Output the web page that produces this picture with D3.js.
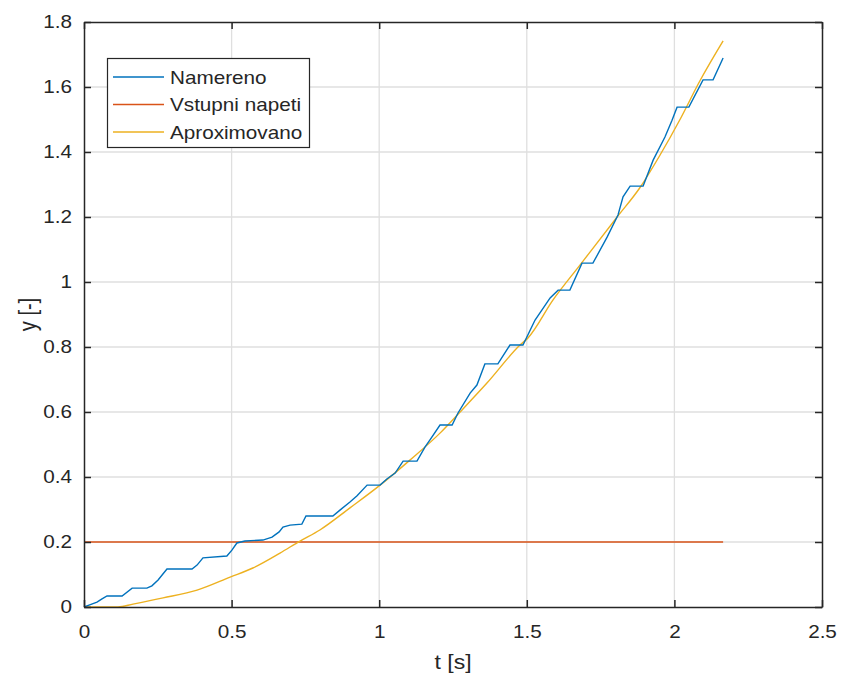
<!DOCTYPE html>
<html>
<head>
<meta charset="utf-8">
<script src="https://d3js.org/d3.v7.min.js"></script>
<style>
  body { margin: 0; background: #fff; }
  text { font-family: "Liberation Sans", Arial, sans-serif; fill: #262626; }
</style>
</head>
<body>
<script>
// measured signal (staircase from quantised samples)
var measT = [0, 0.017, 0.044, 0.061, 0.078, 0.129, 0.163, 0.213, 0.230, 0.251, 0.281, 0.366,
  0.383, 0.403, 0.484, 0.501, 0.518, 0.545, 0.606, 0.637, 0.661, 0.674, 0.698, 0.738, 0.752,
  0.843, 0.867, 0.901, 0.925, 0.959, 1.003, 1.026, 1.054, 1.081, 1.128, 1.155, 1.172, 1.206,
  1.247, 1.267, 1.308, 1.331, 1.358, 1.402, 1.443, 1.487, 1.528, 1.579, 1.606, 1.646, 1.687,
  1.724, 1.772, 1.809, 1.826, 1.850, 1.894, 1.928, 1.968, 1.992, 2.009, 2.049, 2.097, 2.131, 2.165];
var measY = [0, 0.006, 0.015, 0.025, 0.034, 0.034, 0.058, 0.058, 0.065, 0.083, 0.117, 0.117,
  0.129, 0.151, 0.157, 0.175, 0.197, 0.203, 0.206, 0.215, 0.231, 0.246, 0.252, 0.255, 0.280,
  0.280, 0.298, 0.323, 0.342, 0.375, 0.375, 0.394, 0.412, 0.449, 0.449, 0.492, 0.514, 0.560,
  0.560, 0.597, 0.658, 0.683, 0.748, 0.748, 0.806, 0.806, 0.883, 0.951, 0.975, 0.975, 1.058,
  1.058, 1.138, 1.206, 1.262, 1.295, 1.295, 1.375, 1.446, 1.498, 1.538, 1.538, 1.622, 1.622, 1.689];

// input voltage
var inputT = [0, 2.165];
var inputY = [0.2, 0.2];

// approximation
var aproxT = [0, 0.115, 0.166, 0.268, 0.383, 0.495, 0.572, 0.664, 0.732, 0.799, 0.901, 1.003,
  1.104, 1.206, 1.274, 1.365, 1.477, 1.504, 1.589, 1.680, 1.806, 1.883, 1.951, 2.019, 2.087, 2.165];
var aproxY = [0, 0, 0.009, 0.028, 0.052, 0.092, 0.120, 0.166, 0.203, 0.237, 0.305, 0.375,
  0.452, 0.535, 0.600, 0.689, 0.806, 0.828, 0.945, 1.052, 1.200, 1.290, 1.390, 1.500, 1.620, 1.742];

var xTicks = [0, 0.5, 1, 1.5, 2, 2.5];
var yTicks = [0, 0.2, 0.4, 0.6, 0.8, 1, 1.2, 1.4, 1.6, 1.8];
var legendNames = ["Namereno", "Vstupni napeti", "Aproximovano"];
var colors = ["#0072BD", "#D95319", "#EDB120"];

var W = 842, H = 683;
var pLeft = 84, pRight = 822, pTop = 22, pBottom = 607;
var stretch = "scale(1.15,1)"; // reference glyphs are a bit wide

var svg = d3.select("body").append("svg").attr("width", W).attr("height", H);

var x = d3.scaleLinear().domain([0, 2.5]).range([pLeft, pRight]);
var y = d3.scaleLinear().domain([0, 1.8]).range([pBottom, pTop]);

// grid
svg.append("g").selectAll("line").data(xTicks.slice(1, -1)).enter().append("line")
  .attr("x1", d => x(d)).attr("x2", d => x(d)).attr("y1", pTop).attr("y2", pBottom)
  .attr("stroke", "#dfdfdf").attr("stroke-width", 1.3);
svg.append("g").selectAll("line").data(yTicks.slice(1, -1)).enter().append("line")
  .attr("y1", d => y(d)).attr("y2", d => y(d)).attr("x1", pLeft).attr("x2", pRight)
  .attr("stroke", "#dfdfdf").attr("stroke-width", 1.3);

// series
var line = d3.line().x(d => x(d[0])).y(d => y(d[1]));
var series = [
  d3.zip(measT, measY),
  d3.zip(inputT, inputY),
  d3.zip(aproxT, aproxY)
];
svg.append("path").datum(series[1]).attr("d", line)
  .attr("fill", "none").attr("stroke", colors[1]).attr("stroke-width", 1.4);
svg.append("path").datum(series[2]).attr("d", line.curve(d3.curveMonotoneX))
  .attr("fill", "none").attr("stroke", colors[2]).attr("stroke-width", 1.4);
line.curve(d3.curveLinear);
svg.append("path").datum(series[0]).attr("d", line)
  .attr("fill", "none").attr("stroke", colors[0]).attr("stroke-width", 1.4);

// axes (ticks inward, box)
var xAxisB = d3.axisBottom(x).tickValues(xTicks).tickSizeInner(-7).tickSizeOuter(0).tickPadding(18).tickFormat(d3.format("~g"));
var xAxisT = d3.axisTop(x).tickValues(xTicks).tickSizeInner(-7).tickSizeOuter(0).tickFormat("");
var yAxisL = d3.axisLeft(y).tickValues(yTicks).tickSizeInner(-7).tickSizeOuter(0).tickFormat(d3.format("~g"));
var yAxisR = d3.axisRight(y).tickValues(yTicks).tickSizeInner(-7).tickSizeOuter(0).tickFormat("");

function styleAxis(g) {
  g.select(".domain").attr("stroke", "#262626").attr("stroke-width", 1.5);
  g.selectAll(".tick line").attr("stroke", "#262626").attr("stroke-width", 1.5);
  g.selectAll(".tick text").attr("font-size", 18).attr("fill", "#262626")
    .attr("font-family", "Liberation Sans, Arial, sans-serif");
}
svg.append("g").attr("transform", "translate(0," + pBottom + ")").call(xAxisB).call(styleAxis)
  .selectAll(".tick text").attr("transform", stretch);
svg.append("g").attr("transform", "translate(0," + pTop + ")").call(xAxisT).call(styleAxis);
svg.append("g").attr("transform", "translate(" + pLeft + ",0)").call(yAxisL).call(styleAxis)
  .selectAll(".tick text").attr("x", 0).attr("transform", "translate(-12,0) " + stretch);
svg.append("g").attr("transform", "translate(" + pRight + ",0)").call(yAxisR).call(styleAxis);

// axis labels
svg.append("text").attr("transform", "translate(" + (pLeft + pRight) / 2 + ",669) " + stretch)
  .attr("text-anchor", "middle").attr("font-size", 20).text("t [s]");
svg.append("text").attr("transform", "translate(36," + (pTop + pBottom) / 2 + ") rotate(-90) scale(1,1.15)")
  .attr("text-anchor", "middle").attr("font-size", 20).text("y [-]");

// legend
var lg = svg.append("g");
lg.append("rect").attr("x", 107.5).attr("y", 58.5).attr("width", 202).attr("height", 89)
  .attr("fill", "#fff").attr("stroke", "#262626").attr("stroke-width", 1.2);
legendNames.forEach(function(name, i) {
  var ly = 77 + i * 27.5;
  lg.append("line").attr("x1", 113).attr("x2", 164).attr("y1", ly).attr("y2", ly)
    .attr("stroke", colors[i]).attr("stroke-width", 1.4);
  lg.append("text").attr("transform", "translate(170," + (ly + 6.5) + ") " + stretch)
    .attr("font-size", 18).text(name);
});
</script>
</body>
</html>
